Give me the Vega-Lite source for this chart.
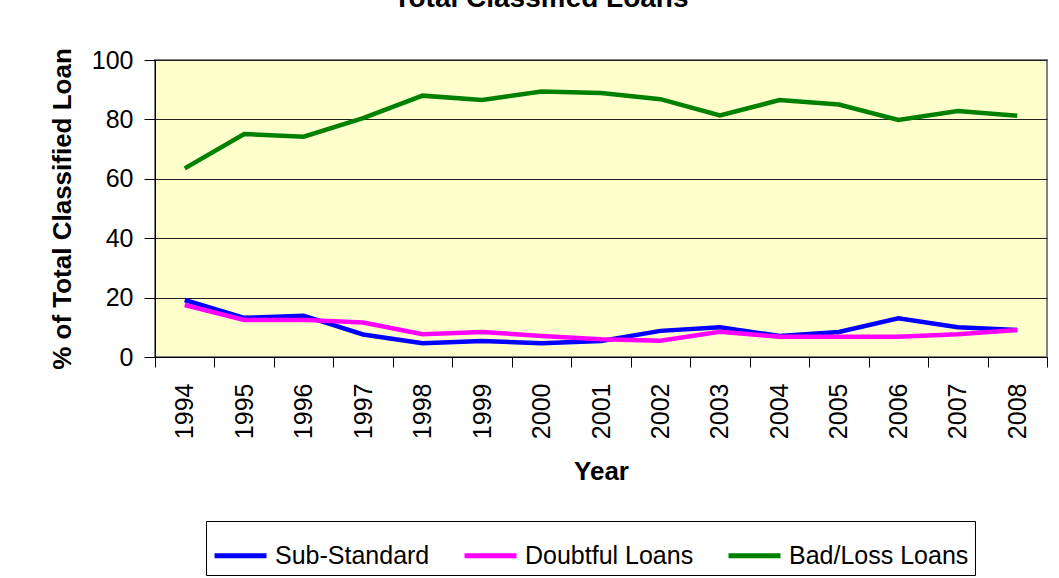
{
  "$schema": "https://vega.github.io/schema/vega-lite/v6.json",
  "width": 892,
  "height": 297,
  "autosize": {"type": "none"},
  "padding": {"left": 155, "top": 60, "right": 12, "bottom": 221},
  "background": "white",
  "title": {
    "text": "Total Classified Loans",
    "font": "Liberation Sans",
    "fontSize": 28,
    "fontWeight": "bold",
    "color": "black",
    "anchor": "middle",
    "dx": -60,
    "offset": 13,
    "baseline": "alphabetic"
  },
  "data": {
    "values": [
      {"year": "1994", "series": "Sub-Standard", "value": 19.2},
      {"year": "1995", "series": "Sub-Standard", "value": 13.2},
      {"year": "1996", "series": "Sub-Standard", "value": 13.9},
      {"year": "1997", "series": "Sub-Standard", "value": 7.6},
      {"year": "1998", "series": "Sub-Standard", "value": 4.6},
      {"year": "1999", "series": "Sub-Standard", "value": 5.4},
      {"year": "2000", "series": "Sub-Standard", "value": 4.6},
      {"year": "2001", "series": "Sub-Standard", "value": 5.4},
      {"year": "2002", "series": "Sub-Standard", "value": 8.8},
      {"year": "2003", "series": "Sub-Standard", "value": 10.0},
      {"year": "2004", "series": "Sub-Standard", "value": 7.1},
      {"year": "2005", "series": "Sub-Standard", "value": 8.4},
      {"year": "2006", "series": "Sub-Standard", "value": 13.0},
      {"year": "2007", "series": "Sub-Standard", "value": 10.0},
      {"year": "2008", "series": "Sub-Standard", "value": 9.1},
      {"year": "1994", "series": "Doubtful Loans", "value": 17.5},
      {"year": "1995", "series": "Doubtful Loans", "value": 12.5},
      {"year": "1996", "series": "Doubtful Loans", "value": 12.5},
      {"year": "1997", "series": "Doubtful Loans", "value": 11.6},
      {"year": "1998", "series": "Doubtful Loans", "value": 7.7},
      {"year": "1999", "series": "Doubtful Loans", "value": 8.4},
      {"year": "2000", "series": "Doubtful Loans", "value": 7.1},
      {"year": "2001", "series": "Doubtful Loans", "value": 6.0},
      {"year": "2002", "series": "Doubtful Loans", "value": 5.5},
      {"year": "2003", "series": "Doubtful Loans", "value": 8.5},
      {"year": "2004", "series": "Doubtful Loans", "value": 6.8},
      {"year": "2005", "series": "Doubtful Loans", "value": 6.8},
      {"year": "2006", "series": "Doubtful Loans", "value": 6.8},
      {"year": "2007", "series": "Doubtful Loans", "value": 7.7},
      {"year": "2008", "series": "Doubtful Loans", "value": 9.1},
      {"year": "1994", "series": "Bad/Loss Loans", "value": 63.5},
      {"year": "1995", "series": "Bad/Loss Loans", "value": 75.1},
      {"year": "1996", "series": "Bad/Loss Loans", "value": 74.2},
      {"year": "1997", "series": "Bad/Loss Loans", "value": 80.4},
      {"year": "1998", "series": "Bad/Loss Loans", "value": 88.0},
      {"year": "1999", "series": "Bad/Loss Loans", "value": 86.5},
      {"year": "2000", "series": "Bad/Loss Loans", "value": 89.4},
      {"year": "2001", "series": "Bad/Loss Loans", "value": 88.9},
      {"year": "2002", "series": "Bad/Loss Loans", "value": 86.8},
      {"year": "2003", "series": "Bad/Loss Loans", "value": 81.3},
      {"year": "2004", "series": "Bad/Loss Loans", "value": 86.5},
      {"year": "2005", "series": "Bad/Loss Loans", "value": 85.0},
      {"year": "2006", "series": "Bad/Loss Loans", "value": 79.8},
      {"year": "2007", "series": "Bad/Loss Loans", "value": 82.8},
      {"year": "2008", "series": "Bad/Loss Loans", "value": 81.2}
    ]
  },
  "mark": {"type": "line", "strokeWidth": 4.5},
  "encoding": {
    "x": {
      "field": "year",
      "type": "ordinal",
      "scale": {"type": "band", "paddingInner": 0, "paddingOuter": 0},
      "axis": {
        "title": "Year",
        "titleFont": "Liberation Sans",
        "titleFontSize": 26,
        "titleFontWeight": "bold",
        "titleColor": "black",
        "titlePadding": 20,
        "labelAngle": -90,
        "labelFont": "Liberation Sans",
        "labelFontSize": 25,
        "labelColor": "black",
        "labelPadding": 16,
        "tickBand": "extent",
        "tickSize": 10,
        "tickColor": "black",
        "domainColor": "black",
        "grid": false
      }
    },
    "y": {
      "field": "value",
      "type": "quantitative",
      "scale": {"domain": [0, 100], "nice": false},
      "axis": {
        "title": "% of Total Classified Loan",
        "titleFont": "Liberation Sans",
        "titleFontSize": 26,
        "titleFontWeight": "bold",
        "titleColor": "black",
        "titlePadding": 16,
        "values": [0, 20, 40, 60, 80, 100],
        "labelFont": "Liberation Sans",
        "labelFontSize": 25,
        "labelColor": "black",
        "labelPadding": 11,
        "tickSize": 11,
        "tickColor": "black",
        "domainColor": "black",
        "grid": true,
        "gridColor": "#222222",
        "gridWidth": 1
      }
    },
    "color": {
      "field": "series",
      "type": "nominal",
      "sort": ["Sub-Standard", "Doubtful Loans", "Bad/Loss Loans"],
      "scale": {
        "domain": ["Sub-Standard", "Doubtful Loans", "Bad/Loss Loans"],
        "range": ["#0000FF", "#FF00FF", "#008000"]
      },
      "legend": {
        "orient": "none",
        "legendX": 51,
        "legendY": 461,
        "direction": "horizontal",
        "title": null,
        "symbolType": "stroke",
        "symbolSize": 2704,
        "symbolStrokeWidth": 5,
        "labelFont": "Liberation Sans",
        "labelFontSize": 25,
        "labelColor": "black",
        "labelOffset": 6,
        "labelLimit": 400,
        "columnPadding": 24,
        "padding": 6,
        "strokeColor": "black",
        "fillColor": "white"
      }
    }
  },
  "config": {
    "view": {"fill": "#FFFFCC", "stroke": "#808080", "strokeWidth": 2}
  }
}
